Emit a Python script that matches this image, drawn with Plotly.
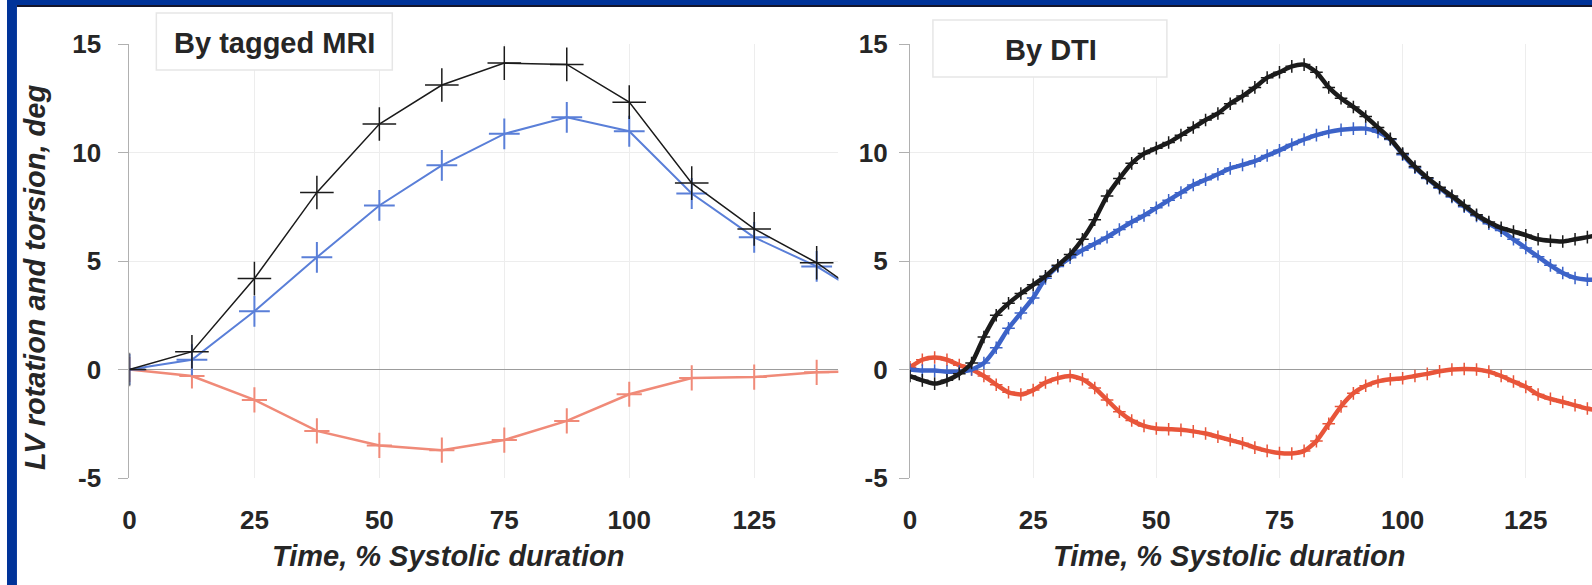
import plotly.graph_objects as go

# ---------------- data ----------------
# Tagged MRI: samples every 12.5 % of systole
mri_time = [0, 12.5, 25, 37.5, 50, 62.5, 75, 87.5, 100, 112.5, 125, 137.5, 150]
mri_torsion = [0, 0.82, 4.19, 8.16, 11.31, 13.11, 14.12, 14.06, 12.32, 8.59, 6.48, 4.92, 2.9]
mri_apex = [0, 0.45, 2.68, 5.17, 7.56, 9.41, 10.86, 11.62, 10.98, 8.11, 6.09, 4.75, 3.0]
mri_base = [0, -0.3, -1.4, -2.83, -3.5, -3.72, -3.25, -2.37, -1.14, -0.39, -0.35, -0.13, -0.05]

# DTI: densely sampled traces
dti_time = [0, 2.5, 5, 7.5, 10, 12.5, 15, 17.5, 20, 22.5, 25, 27.5, 30, 32.5, 35,
            37.5, 40, 42.5, 45, 47.5, 50, 52.5, 55, 57.5, 60, 62.5, 65, 67.5, 70,
            72.5, 75, 77.5, 80, 82.5, 85, 87.5, 90, 92.5, 95, 97.5, 100, 102.5, 105,
            107.5, 110, 112.5, 115, 117.5, 120, 122.5, 125, 127.5, 130, 132.5, 135,
            137.5, 140]
dti_torsion = [-0.3, -0.5, -0.65, -0.5, -0.2, 0.3, 1.5, 2.5, 3.05, 3.5, 3.9, 4.3, 4.8,
               5.3, 6.0, 6.9, 8.0, 8.8, 9.5, 9.95, 10.2, 10.46, 10.8, 11.15, 11.5, 11.8,
               12.25, 12.6, 13.0, 13.45, 13.7, 13.97, 14.05, 13.7, 13.0, 12.5, 12.1,
               11.66, 11.15, 10.63, 9.95, 9.35, 8.84, 8.4, 8.0, 7.56, 7.13, 6.8, 6.53,
               6.36, 6.19, 6.0, 5.93, 5.9, 6.0, 6.1, 6.2]
dti_apex = [0, -0.05, -0.05, -0.1, -0.1, 0.0, 0.3, 1.0, 1.9, 2.6, 3.3, 4.2, 4.75, 5.15,
            5.5, 5.8, 6.1, 6.45, 6.8, 7.1, 7.45, 7.8, 8.15, 8.5, 8.75, 9.0, 9.27, 9.43,
            9.6, 9.86, 10.1, 10.37, 10.6, 10.8, 10.95, 11.05, 11.1, 11.1, 10.95, 10.6,
            9.9, 9.3, 8.8, 8.35, 7.95, 7.5, 7.08, 6.72, 6.4, 6.0, 5.6, 5.2, 4.8, 4.45,
            4.22, 4.14, 4.14]
dti_base = [0.1, 0.45, 0.55, 0.45, 0.2, 0.0, -0.3, -0.7, -1.05, -1.15, -0.95, -0.6,
            -0.4, -0.3, -0.45, -0.85, -1.4, -1.95, -2.35, -2.6, -2.72, -2.75, -2.78,
            -2.85, -2.95, -3.1, -3.25, -3.4, -3.6, -3.75, -3.85, -3.87, -3.75, -3.3,
            -2.5, -1.7, -1.1, -0.75, -0.55, -0.45, -0.4, -0.3, -0.2, -0.08, 0.0, 0.02,
            0.0, -0.1, -0.3, -0.55, -0.8, -1.15, -1.35, -1.5, -1.65, -1.8, -1.9]

x_ticks = [0, 25, 50, 75, 100, 125]
y_ticks = [-5, 0, 5, 10, 15]
y_tick_labels = ["-5", "0", "5", "10", "15"]

# ---------------- layout geometry (pixels) ----------------
W, H = 1592, 585
PLOT_TOP, PLOT_BOTTOM = 44, 478
LEFT_X0, LEFT_X1 = 123, 835
RIGHT_X0, RIGHT_X1 = 907, 1592
LEFT_PX_PER_UNIT = 5.02
RIGHT_PX_PER_UNIT = 4.948


def px_x(p):
    return p / W


def px_y(p):
    return (PLOT_BOTTOM - p) / (PLOT_BOTTOM - PLOT_TOP)


FONT = "Liberation Sans, Arial, sans-serif"
BLACK = "#1b1b1b"
BLUE = "#3c63c8"
RED = "#e8553a"
RED_SOFT = "#f08a78"
BLUE_SOFT = "#5a7fd8"

fig = go.Figure()

# Tagged MRI panel
fig.add_trace(go.Scatter(
    x=mri_time, y=mri_base, xaxis="x", yaxis="y", mode="lines+markers",
    line=dict(color=RED_SOFT, width=2.5),
    marker=dict(symbol="cross-thin", size=18, line=dict(color=RED_SOFT, width=2)),
    showlegend=False))
fig.add_trace(go.Scatter(
    x=mri_time, y=mri_apex, xaxis="x", yaxis="y", mode="lines+markers",
    line=dict(color=BLUE_SOFT, width=2),
    marker=dict(symbol="cross-thin", size=22, line=dict(color=BLUE_SOFT, width=2)),
    showlegend=False))
fig.add_trace(go.Scatter(
    x=mri_time, y=mri_torsion, xaxis="x", yaxis="y", mode="lines+markers",
    line=dict(color=BLACK, width=1.5),
    marker=dict(symbol="cross-thin", size=24, line=dict(color=BLACK, width=1.5)),
    showlegend=False))

# DTI panel
for vals, col in ((dti_base, RED), (dti_apex, BLUE), (dti_torsion, BLACK)):
    fig.add_trace(go.Scatter(
        x=dti_time, y=vals, xaxis="x2", yaxis="y2", mode="lines+markers",
        line=dict(color=col, width=4.5, shape="spline", smoothing=0.6),
        marker=dict(symbol="cross-thin", size=9, line=dict(color=col, width=1.5)),
        showlegend=False))

tickfont = dict(family=FONT, size=26, color="#262626", weight="bold")
grid = "#ededed"

xcommon = dict(
    tickvals=x_ticks, tickfont=tickfont, showgrid=True, gridcolor=grid,
    gridwidth=1, zeroline=False, showline=False, ticks="",
    ticklabelstandoff=24, fixedrange=True)
ycommon = dict(
    range=[-5, 15], tickvals=y_ticks, ticktext=y_tick_labels, tickfont=tickfont,
    showgrid=True, gridcolor=grid, gridwidth=1, zeroline=True,
    zerolinecolor="#9c9c9c", zerolinewidth=1.2, showline=True,
    linecolor="#b0b0b0", linewidth=1.2, ticks="outside", ticklen=10,
    tickcolor="#b0b0b0", fixedrange=True)

fig.update_layout(
    width=W, height=H,
    margin=dict(l=0, r=0, t=PLOT_TOP, b=H - PLOT_BOTTOM, pad=0),
    paper_bgcolor="white", plot_bgcolor="white",
    xaxis=dict(domain=[px_x(LEFT_X0), px_x(LEFT_X1)],
               range=[0, (LEFT_X1 - LEFT_X0) / LEFT_PX_PER_UNIT], **xcommon),
    yaxis=dict(anchor="x", ticklabelstandoff=12, **ycommon),
    xaxis2=dict(domain=[px_x(RIGHT_X0), px_x(RIGHT_X1)],
                range=[0, (RIGHT_X1 - RIGHT_X0) / RIGHT_PX_PER_UNIT], **xcommon),
    yaxis2=dict(anchor="x2", ticklabelstandoff=6, **ycommon),
)

shapes = [
    # frame
    dict(type="rect", xref="paper", yref="paper", x0=0, x1=px_x(10),
         y0=px_y(H), y1=px_y(0), fillcolor="#003399", line=dict(width=0), layer="above"),
    dict(type="rect", xref="paper", yref="paper", x0=0, x1=1,
         y0=px_y(5), y1=px_y(0), fillcolor="#003399", line=dict(width=0), layer="above"),
    dict(type="rect", xref="paper", yref="paper", x0=px_x(10), x1=1,
         y0=px_y(7), y1=px_y(5), fillcolor="#15152a", line=dict(width=0), layer="above"),
    # panel caption boxes
    dict(type="rect", xref="paper", yref="paper", x0=px_x(150), x1=px_x(387),
         y0=px_y(70), y1=px_y(13), fillcolor="white",
         line=dict(color="#e6e6e6", width=1.5), layer="above"),
    dict(type="rect", xref="paper", yref="paper", x0=px_x(930), x1=px_x(1165),
         y0=px_y(77), y1=px_y(20), fillcolor="white",
         line=dict(color="#e6e6e6", width=1.5), layer="above"),
]

caption_font = dict(family=FONT, size=29, color="#262626", weight="bold")
title_font = dict(family=FONT, size=29, color="#262626", weight="bold", style="italic")

annotations = [
    dict(text="By tagged MRI", xref="paper", yref="paper", x=px_x(269), y=px_y(43),
         xanchor="center", yanchor="middle", showarrow=False, font=caption_font),
    dict(text="By DTI", xref="paper", yref="paper", x=px_x(1049), y=px_y(50),
         xanchor="center", yanchor="middle", showarrow=False, font=caption_font),
    dict(text="Time, % Systolic duration", xref="paper", yref="paper",
         x=px_x(443), y=px_y(556), xanchor="center", yanchor="middle",
         showarrow=False, font=title_font),
    dict(text="Time, % Systolic duration", xref="paper", yref="paper",
         x=px_x(1227), y=px_y(556), xanchor="center", yanchor="middle",
         showarrow=False, font=title_font),
    dict(text="LV rotation and torsion, deg", xref="paper", yref="paper",
         x=px_x(28), y=px_y(277), xanchor="center", yanchor="middle",
         textangle=-90, showarrow=False, font=title_font),
]

fig.update_layout(shapes=shapes, annotations=annotations)

fig.write_html("out.html", config={"displayModeBar": False})
